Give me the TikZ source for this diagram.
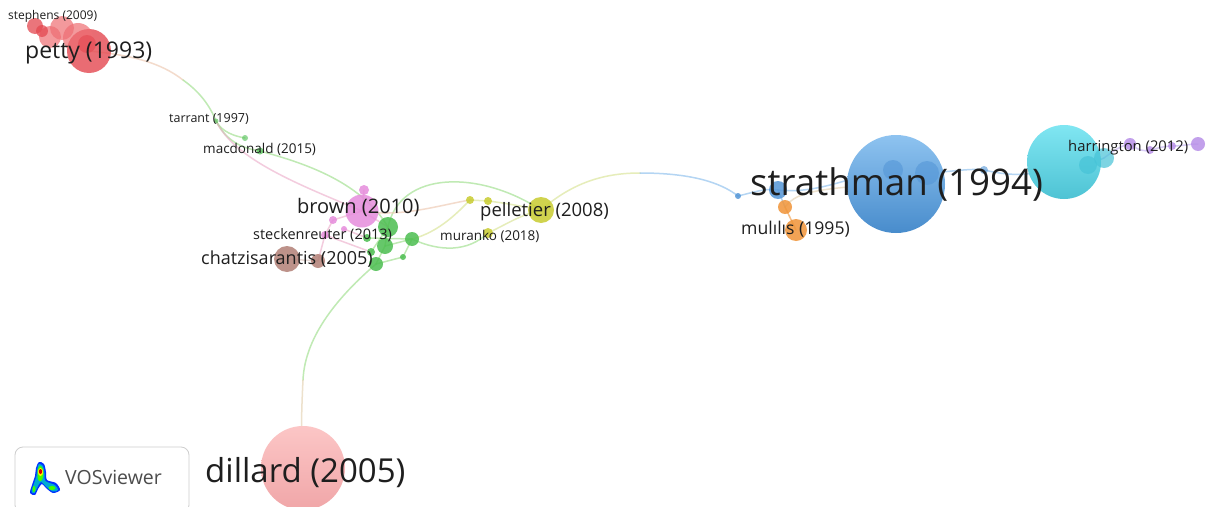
\documentclass[tikz,border=0pt]{standalone}
\usepackage{fontspec}
\setmainfont{Open Sans}
\pgfdeclarelayer{edgelayer}
\pgfsetlayers{edgelayer,main}
\definecolor{txt}{RGB}{30,30,30}
\definecolor{redc}{RGB}{228,72,80}
\definecolor{redl}{RGB}{238,110,115}
\definecolor{greenc}{RGB}{76,190,80}
\definecolor{pinkc}{RGB}{230,140,220}
\definecolor{brownc}{RGB}{178,128,118}
\definecolor{yellowc}{RGB}{200,204,48}
\definecolor{bluec}{RGB}{84,150,215}
\definecolor{blueT}{RGB}{142,195,240}
\definecolor{blueB}{RGB}{72,140,204}
\definecolor{cyanT}{RGB}{128,230,242}
\definecolor{cyanB}{RGB}{78,195,212}
\definecolor{cyanc}{RGB}{70,195,215}
\definecolor{orangec}{RGB}{240,148,56}
\definecolor{purplec}{RGB}{184,144,232}
\definecolor{dilT}{RGB}{252,198,198}
\definecolor{dilB}{RGB}{240,166,168}
\definecolor{eGreen}{RGB}{150,220,130}
\definecolor{ePeach}{RGB}{236,196,170}
\definecolor{ePink}{RGB}{235,170,200}
\definecolor{eYellow}{RGB}{214,226,140}
\definecolor{eBlue}{RGB}{130,185,235}
\definecolor{eBeige}{RGB}{225,205,170}
\definecolor{ePurple}{RGB}{190,170,240}
\definecolor{boxline}{RGB}{205,205,205}
\tikzset{
  bub/.style={circle, inner sep=0pt, draw=none, fill opacity=0.85},
  bigbub/.style={circle, inner sep=0pt, draw=none},
  lbl/.style={anchor=base west, inner sep=0pt, text=txt},
  edge/.style={line width=1.5pt, draw opacity=0.6, line cap=round},
}
\begin{document}
\begin{tikzpicture}[x=1pt,y=-1pt]
\useasboundingbox (0,0) rectangle (1207,506);
\begin{pgfonlayer}{edgelayer}
\fill[white] (0,0) rectangle (1207,506);
\end{pgfonlayer}

% ---------- dillard ----------
\node[bigbub, minimum size=84pt, top color=dilT, bottom color=dilB] (d1) at (303,468) {};

% ---------- strathman cluster ----------
\node[bigbub, minimum size=98pt, top color=blueT, bottom color=blueB] (bl1) at (896,184) {};
\node[bub, minimum size=20pt, fill=bluec, fill opacity=0.6] (bl2) at (893,170) {};
\node[bub, minimum size=24pt, fill=bluec, fill opacity=0.6] (bl3) at (927,173) {};
\node[bub, minimum size=18pt, fill=bluec] (bl4) at (778,190) {};
\node[bub, minimum size=6pt, fill=bluec] (bl5) at (738,196) {};
\node[bub, minimum size=8pt, fill=bluec, fill opacity=0.6] (bl6) at (984,170) {};
\node[bub, minimum size=14pt, fill=orangec] (o1) at (785,207) {};
\node[bub, minimum size=22pt, fill=orangec] (o2) at (796,230) {};

% ---------- cyan cluster ----------
\node[bigbub, minimum size=74pt, top color=cyanT, bottom color=cyanB] (c1) at (1064,162) {};
\node[bub, minimum size=18pt, fill=cyanc, fill opacity=0.7] (c2) at (1088,165) {};
\node[bub, minimum size=20pt, fill=cyanc, fill opacity=0.7] (c3) at (1104,158) {};
\node[bub, minimum size=12pt, fill=purplec] (pu1) at (1130,144) {};
\node[bub, minimum size=8pt, fill=purplec] (pu2) at (1150,150) {};
\node[bub, minimum size=8pt, fill=purplec] (pu3) at (1172,146) {};
\node[bub, minimum size=14pt, fill=purplec] (pu4) at (1198,144) {};

% ---------- petty cluster ----------
\node[bub, minimum size=44pt, fill=redc, fill opacity=0.8] (r1) at (89,51) {};
\node[bub, minimum size=30pt, fill=redl, fill opacity=0.7] (r2) at (78,38) {};
\node[bub, minimum size=24pt, fill=redl, fill opacity=0.7] (r3) at (62,28) {};
\node[bub, minimum size=22pt, fill=redl, fill opacity=0.7] (r4) at (50,37) {};
\node[bub, minimum size=16pt, fill=redc, fill opacity=0.75] (r5) at (35,26) {};
\node[bub, minimum size=12pt, fill=redc, fill opacity=0.75] (r6) at (42,31) {};
\node[bub, minimum size=18pt, fill=redc, fill opacity=0.6] (r7) at (87,44) {};

% ---------- green / pink / brown / yellow ----------
\node[bub, minimum size=5pt, fill=greenc, fill opacity=0.6] (gtar) at (216,121) {};
\node[bub, minimum size=6pt, fill=greenc, fill opacity=0.6] (gmac1) at (245,138) {};
\node[bub, minimum size=7pt, fill=greenc, fill opacity=0.7] (gmac2) at (260,151) {};
\node[bub, minimum size=33pt, fill=pinkc] (p1) at (362,211) {};
\node[bub, minimum size=10pt, fill=pinkc] (p2) at (364,190) {};
\node[bub, minimum size=8pt, fill=pinkc] (p3) at (333,220) {};
\node[bub, minimum size=8pt, fill=pinkc] (p4) at (325,235) {};
\node[bub, minimum size=6pt, fill=pinkc] (p5) at (344,229) {};
\node[bub, minimum size=26pt, fill=brownc] (b1) at (287,259) {};
\node[bub, minimum size=14pt, fill=brownc] (b2) at (318,261) {};
\node[bub, minimum size=20pt, fill=greenc] (g1) at (388,227) {};
\node[bub, minimum size=14pt, fill=greenc] (g2) at (412,239) {};
\node[bub, minimum size=16pt, fill=greenc] (g3) at (385,246) {};
\node[bub, minimum size=14pt, fill=greenc] (g4) at (376,264) {};
\node[bub, minimum size=8pt, fill=greenc] (g5) at (367,238) {};
\node[bub, minimum size=6pt, fill=greenc] (g6) at (403,257) {};
\node[bub, minimum size=8pt, fill=greenc] (g7) at (371,252) {};
\node[bub, minimum size=26pt, fill=yellowc] (y1) at (541,210) {};
\node[bub, minimum size=8pt, fill=yellowc] (y2) at (470,200) {};
\node[bub, minimum size=8pt, fill=yellowc] (y3) at (488,201) {};
\node[bub, minimum size=10pt, fill=yellowc] (y4) at (488,233) {};

% ---------- edges ----------
\begin{pgfonlayer}{edgelayer}
\coordinate (m1) at (183,80);
\coordinate (m2) at (640,173);
\coordinate (m3) at (303,380);
\draw[edge, ePeach] (r1.center) .. controls (130,55) and (160,62) .. (m1);
\draw[edge, eGreen] (m1) .. controls (200,92) and (210,106) .. (gtar.center);
\draw[edge, eGreen] (gtar.center) .. controls (222,132) and (234,136) .. (gmac1.center);
\draw[edge, eGreen] (gtar.center) .. controls (226,140) and (240,148) .. (gmac2.center);
\draw[edge, eGreen] (gmac2.center) .. controls (300,162) and (360,180) .. (g1.center);
\draw[edge, ePink] (gtar.center) .. controls (235,160) and (300,185) .. (p1.center);
\draw[edge, eGreen] (g1.center) .. controls (400,170) and (480,170) .. (y1.center);
\draw[edge, eGreen] (g2.center) .. controls (440,252) and (468,252) .. (y4.center);
\draw[edge, eYellow] (y4.center) .. controls (505,225) and (520,215) .. (y1.center);
\draw[edge, ePeach] (p1.center) .. controls (400,218) and (440,205) .. (y2.center);
\draw[edge, eYellow] (y2.center) -- (y3.center);
\draw[edge, eYellow] (y3.center) .. controls (505,203) and (520,206) .. (y1.center);
\draw[edge, eYellow] (g2.center) .. controls (440,232) and (460,210) .. (y2.center);
\draw[edge, eYellow] (y1.center) .. controls (570,185) and (600,173) .. (m2);
\draw[edge, eBlue] (m2) .. controls (690,173) and (720,182) .. (bl5.center);
\draw[edge, eBlue] (bl5.center) .. controls (755,192) and (765,188) .. (bl4.center);
\draw[edge, eBlue] (bl4.center) .. controls (820,195) and (860,172) .. (bl2.center);
\draw[edge, eBlue] (bl2.center) .. controls (905,175) and (915,176) .. (bl3.center);
\draw[edge, eBlue] (bl3.center) .. controls (950,172) and (970,168) .. (bl6.center);
\draw[edge, eBlue] (bl6.center) .. controls (1010,176) and (1035,178) .. (c1.center);
\draw[edge, eBlue] (c1.center) .. controls (1075,160) and (1080,166) .. (c2.center);
\draw[edge, eBlue] (c2.center) -- (c3.center);
\draw[edge, ePurple] (c3.center) .. controls (1115,150) and (1120,146) .. (pu1.center);
\draw[edge, ePurple] (pu1.center) .. controls (1138,150) and (1144,152) .. (pu2.center);
\draw[edge, ePurple] (pu2.center) .. controls (1158,148) and (1165,146) .. (pu3.center);
\draw[edge, ePurple] (pu3.center) .. controls (1182,146) and (1190,144) .. (pu4.center);
\draw[edge, eBeige] (o1.center) .. controls (795,195) and (805,188) .. (bl1.center);
\draw[edge, orangec] (o1.center) -- (o2.center);
\draw[edge, eBlue] (o1.center) -- (bl4.center);
\draw[edge, eGreen] (g4.center) .. controls (340,295) and (305,335) .. (m3);
\draw[edge, eBeige] (m3) .. controls (301,420) and (301,445) .. (d1.center);
\draw[edge, eGreen] (g1.center) -- (g3.center);
\draw[edge, eGreen] (g3.center) -- (g4.center);
\draw[edge, eGreen] (g2.center) -- (g6.center);
\draw[edge, eGreen] (g6.center) -- (g4.center);
\draw[edge, eGreen] (g5.center) -- (g2.center);
\draw[edge, eGreen] (g7.center) -- (g1.center);
\draw[edge, eGreen] (g3.center) -- (g2.center);
\draw[edge, ePink] (p1.center) -- (p3.center);
\draw[edge, ePink] (p3.center) -- (p4.center);
\draw[edge, ePink] (p4.center) -- (b2.center);
\draw[edge, ePink] (p5.center) -- (g5.center);
\draw[edge, ePink] (p4.center) -- (g7.center);
\draw[edge, brownc!50] (b1.center) -- (b2.center);
\draw[edge, ePink] (p1.center) -- (g1.center);
\draw[edge, ePink] (p2.center) -- (p1.center);
\end{pgfonlayer}

% ---------- labels ----------
\node[lbl, font=\fontsize{12}{12}\selectfont] (lsteph) at (8,19.5) {stephens (2009)};
\node[lbl, font=\fontsize{23}{23}\selectfont] (lpetty) at (25,58) {petty (1993)};
\node[lbl, font=\fontsize{12.5}{12.5}\selectfont] (ltar) at (169,122) {tarrant (1997)};
\node[lbl, font=\fontsize{13.5}{13.5}\selectfont] (lmac) at (203,153) {macdonald (2015)};
\node[lbl, font=\fontsize{20}{20}\selectfont] (lbrown) at (297,213) {brown (2010)};
\node[lbl, font=\fontsize{14.5}{14.5}\selectfont] (lsteck) at (253,239) {steckenreuter (2013)};
\node[lbl, font=\fontsize{18}{18}\selectfont] (lchatz) at (201,264) {chatzisarantis (2005)};
\node[lbl, font=\fontsize{18.5}{18.5}\selectfont] (lpell) at (480,216) {pelletier (2008)};
\node[lbl, font=\fontsize{13.5}{13.5}\selectfont] (lmur) at (440,240) {muranko (2018)};
\node[lbl, font=\fontsize{36.7}{36.7}\selectfont] (lstrath) at (750,195) {strathman (1994)};
\node[lbl, font=\fontsize{17.6}{17.6}\selectfont] (lmul) at (741,234) {mulılıs (1995)};
\node[lbl, font=\fontsize{14.8}{14.8}\selectfont] (lharr) at (1068,151) {harrington (2012)};
\node[lbl, font=\fontsize{33}{33}\selectfont] (ldil) at (205,482) {dillard (2005)};

% ---------- VOSviewer badge ----------
\node[draw=boxline, line width=0.8pt, rounded corners=8pt, fill=white, minimum width=174pt, minimum height=66pt, inner sep=0pt] (vbox) at (102,480) {};
\fill[blue!80!cyan] plot[smooth cycle] coordinates {(39,462) (44,464) (46,472) (47,480) (56,483) (60,490) (53,493) (46,488) (42,484) (38,489) (35,495) (30,493) (32,485) (35,476) (36,468)};
\fill[cyan!80!green] plot[smooth cycle] coordinates {(39,464) (43,466) (44.5,473) (45.5,481) (55,485) (58,490) (53,491.5) (46,486.5) (41,482) (37,488) (34.5,493) (31.5,492) (33.5,485) (36.5,476) (37.5,468)};
\fill[green!75!yellow] plot[smooth cycle] coordinates {(40,466) (42.5,468) (43.5,474) (42,480) (39,481) (37.5,476) (38,469)};
\fill[green!75!yellow] (52,488) ellipse (3.5pt and 2pt);
\fill[green!75!yellow] (34,489) ellipse (1.5pt and 3pt);
\fill[yellow] (40.5,472) ellipse (2.6pt and 4pt);
\fill[red!85!black] (40.5,471.5) ellipse (1.6pt and 2.5pt);
\node[lbl, text=black!70, font=\fontsize{19.5}{19.5}\selectfont] (vtext) at (65,484) {VOSviewer};
\end{tikzpicture}
\end{document}
